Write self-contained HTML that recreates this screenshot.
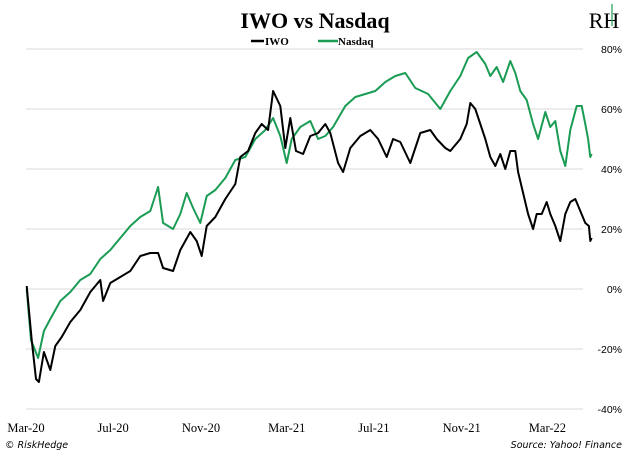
<!DOCTYPE html>
<html><head><meta charset="utf-8"><style>
html,body{margin:0;padding:0;background:#fff;}
svg{display:block;}
</style></head><body>
<svg id="chart" width="630" height="454" viewBox="0 0 630 454" xmlns="http://www.w3.org/2000/svg">
  <text x="315" y="28" text-anchor="middle" font-family="Liberation Serif, serif" font-weight="bold" font-size="22" fill="#000">IWO vs Nasdaq</text>
  <g>
    <text x="604" y="28" text-anchor="middle" font-family="Liberation Serif, serif" font-size="22" fill="#000">RH</text>
    <line x1="612" y1="4" x2="612" y2="26" stroke="#1a9c54" stroke-width="1.2"/>
  </g>
  <g>
    <g>
      <line x1="251" y1="41" x2="264" y2="41" stroke="#000" stroke-width="2.5"/>
      <text x="265" y="45" font-family="Liberation Serif, serif" font-weight="bold" font-size="11">IWO</text>
    </g>
    <g>
      <line x1="318" y1="41" x2="338" y2="41" stroke="#1a9c54" stroke-width="2.5"/>
      <text x="338" y="45" font-family="Liberation Serif, serif" font-weight="bold" font-size="11">Nasdaq</text>
    </g>
  </g>
  <g id="grid"></g>
  <g id="yticks"></g>
  <g id="xticks"></g>
  <g id="series"></g>
  <text x="5" y="448" font-family="DejaVu Sans, sans-serif" font-style="italic" font-size="9.5" fill="#000">© RiskHedge</text>
  <text x="622" y="448" text-anchor="end" font-family="DejaVu Sans, sans-serif" font-style="italic" font-size="9.5" fill="#000">Source: Yahoo! Finance</text>
</svg>
<script>
const yTicks = [80, 60, 40, 20, 0, -20, -40];
const xTickLabels = ["Mar-20","Jul-20","Nov-20","Mar-21","Jul-21","Nov-21","Mar-22"];
const xTickDays = [0, 122, 245, 365, 487, 610, 730];
const nasdaqDays = [1,7,17,25,34,48,62,76,90,104,
 118,132,146,160,174,185,192,206,216,225,
 234,244,253,265,279,293,307,321,335,346,
 356,365,372,384,398,409,419,430,447,461,
 475,489,503,517,531,545,563,580,594,608,
 619,631,643,650,659,668,678,685,692,701,
 710,717,727,734,741,748,755,762,771,778,
 783,787,790,792];
const nasdaqValues = [0,-17,-23,-14,-10,-4,-1,3,5,10,
 13,17,21,24,26,34,22,20,25,32,
 27,22,31,33,37,43,44,50,53,57,
 51,42,50,54,56,50,51,54,61,64,
 65,66,69,71,72,67,65,60,66,71,
 77,79,75,71,74,69,76,72,66,63,
 55,50,59,54,56,46,41,53,61,61,
 55,50,44,45];
const iwoDays = [1,8,14,18,25,34,41,50,62,76,
 90,104,108,118,132,146,160,174,185,192,
 206,216,230,239,246,253,265,279,293,300,
 311,321,330,339,346,356,363,370,378,388,
 398,409,419,426,437,444,454,468,482,493,
 505,514,524,538,552,566,575,587,594,608,
 617,622,629,636,643,650,657,664,671,678,
 685,689,696,703,710,715,722,729,734,741,
 748,755,762,769,776,783,788,790,792];
const iwoValues = [1,-17,-30,-31,-21,-27,-19,-16,-11,-7,
 -1,3,-4,2,4,6,11,12,12,7,
 6,13,19,16,11,21,24,30,35,44,
 46,52,55,53,66,61,47,57,46,45,
 51,52,55,52,42,39,47,51,53,50,
 44,50,49,42,52,53,50,47,46,50,
 55,62,60,55,50,44,41,45,40,46,
 46,39,32,25,20,25,25,29,25,21,
 16,25,29,30,26,22,21,16,17];

const NS = "http://www.w3.org/2000/svg";
const xScale = d => 26 + d / 1.4;
const yScale = v => 289 - v * 3;
const grid = document.getElementById('grid');
const yt = document.getElementById('yticks');
const xt = document.getElementById('xticks');
const series = document.getElementById('series');

yTicks.forEach(v => {
  const l = document.createElementNS(NS, 'line');
  l.setAttribute('x1', 26); l.setAttribute('x2', 583);
  l.setAttribute('y1', yScale(v)); l.setAttribute('y2', yScale(v));
  l.setAttribute('stroke', '#d9d9d9'); l.setAttribute('stroke-width', '1');
  
  
  grid.appendChild(l);
  const t = document.createElementNS(NS, 'text');
  t.setAttribute('x', 622); t.setAttribute('y', yScale(v) + 4);
  t.setAttribute('text-anchor', 'end');
  t.setAttribute('font-family', 'Liberation Sans, sans-serif');
  t.setAttribute('font-size', '10.5');
  t.textContent = v + '%';
  
  
  yt.appendChild(t);
});
xTickLabels.forEach((lab, i) => {
  const t = document.createElementNS(NS, 'text');
  t.setAttribute('x', xScale(xTickDays[i])); t.setAttribute('y', 432);
  t.setAttribute('text-anchor', 'middle');
  t.setAttribute('font-family', 'Liberation Serif, serif');
  t.setAttribute('font-size', '12.5');
  t.textContent = lab;
  
  
  xt.appendChild(t);
});
function drawLine(days, vals, color, name) {
  const p = document.createElementNS(NS, 'polyline');
  p.setAttribute('points', days.map((d, i) => xScale(d).toFixed(1) + ',' + yScale(vals[i]).toFixed(1)).join(' '));
  p.setAttribute('fill', 'none');
  p.setAttribute('stroke', color);
  p.setAttribute('stroke-width', '2');
  p.setAttribute('stroke-linejoin', 'round');
  
  
  series.appendChild(p);
}
drawLine(nasdaqDays, nasdaqValues, '#1a9c54', 'nasdaq-line');
drawLine(iwoDays, iwoValues, '#000000', 'iwo-line');
</script>
</body></html>
